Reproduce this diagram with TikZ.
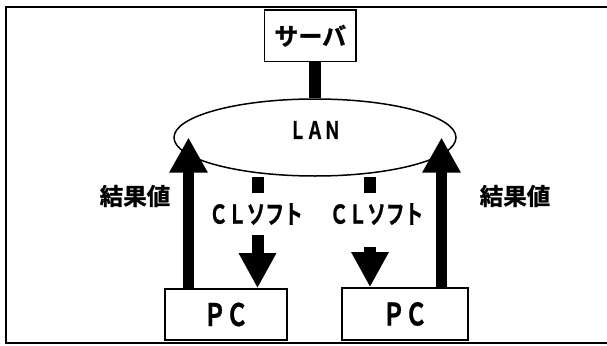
\documentclass[tikz,border=0pt]{standalone}
\usepackage{fontspec}
\usepackage{tikz}
\usetikzlibrary{arrows.meta,shapes.geometric,calc}
\newfontfamily\jpfont{Noto Sans CJK JP Bold}[FakeBold=1.2]
\newfontfamily\jpnarrow{Noto Sans CJK JP Bold}[FakeStretch=0.72,FakeBold=0.8]
\tikzset{
  box/.style={draw,line width=1.6pt,inner sep=0pt},
  flowup/.style={line width=11pt,-{Triangle[length=35pt,width=36pt]}},
  flowdown/.style={line width=12pt,-{Triangle[length=35pt,width=35pt]}},
  stubline/.style={line width=12pt},
  jplabel/.style={font=\jpfont\fontsize{23.5}{24}\selectfont,inner sep=0pt},
  softlabel/.style={font=\jpnarrow\fontsize{26}{26}\selectfont,inner sep=0pt,minimum height=42pt},
}

\begin{document}
\begin{tikzpicture}[x=1pt,y=-1pt]
\useasboundingbox (0,0) rectangle (607,345);
\draw[line width=2.3pt] (6,7) rectangle (615,343);
% server and network
\node[box,minimum width=91.5pt,minimum height=51.5pt,font=\jpfont\fontsize{24}{24}\selectfont] (srv) at (310.25,35.75) {サーバ};
\node[draw,ellipse,line width=1.5pt,minimum width=282pt,minimum height=77pt,inner sep=0pt] (lan) at (315,137.5) {};
\node[font=\jpnarrow\fontsize{24}{24}\selectfont,inner sep=0pt] (lantxt) at ([yshift=7.5pt]lan.center) {ＬＡＮ};
\draw[line width=11.5pt] (lan.north |- srv.south) -- (lan.north);
% clients
\node[box,minimum width=122pt,minimum height=51pt,font=\jpnarrow\fontsize{31}{31}\selectfont] (pc1) at (226,314.5) {ＰＣ};
\node[box,minimum width=126pt,minimum height=52pt,font=\jpnarrow\fontsize{31}{31}\selectfont] (pc2) at (405,314) {ＰＣ};
\coordinate (out1) at ([xshift=-37.5pt]pc1.north);
\coordinate (in1) at ([xshift=31.5pt]pc1.north);
\coordinate (in2) at ([xshift=-35pt]pc2.north);
\coordinate (out2) at ([xshift=36.5pt]pc2.north);
% software going down
\node[softlabel] (cl1) at (256,214) {ＣＬソフト};
\node[softlabel] (cl2) at (376.5,214) {ＣＬソフト};
\draw[stubline] (in1 |- lan.south) -- (in1 |- cl1.north);
\draw[stubline] (in2 |- lan.south) -- (in2 |- cl2.north);
\draw[flowdown] (in1 |- cl1.south) -- (in1);
\draw[flowdown,shorten <=12pt] (in2 |- cl2.south) -- (in2);
% results going up
\draw[flowup] (out1) -- (out1 |- lan.center);
\draw[flowup] (out2) -- (out2 |- lan.center);
\node[jplabel] (res1) at (135,196) {結果値};
\node[jplabel] (res2) at (515,196) {結果値};
\end{tikzpicture}
\end{document}
